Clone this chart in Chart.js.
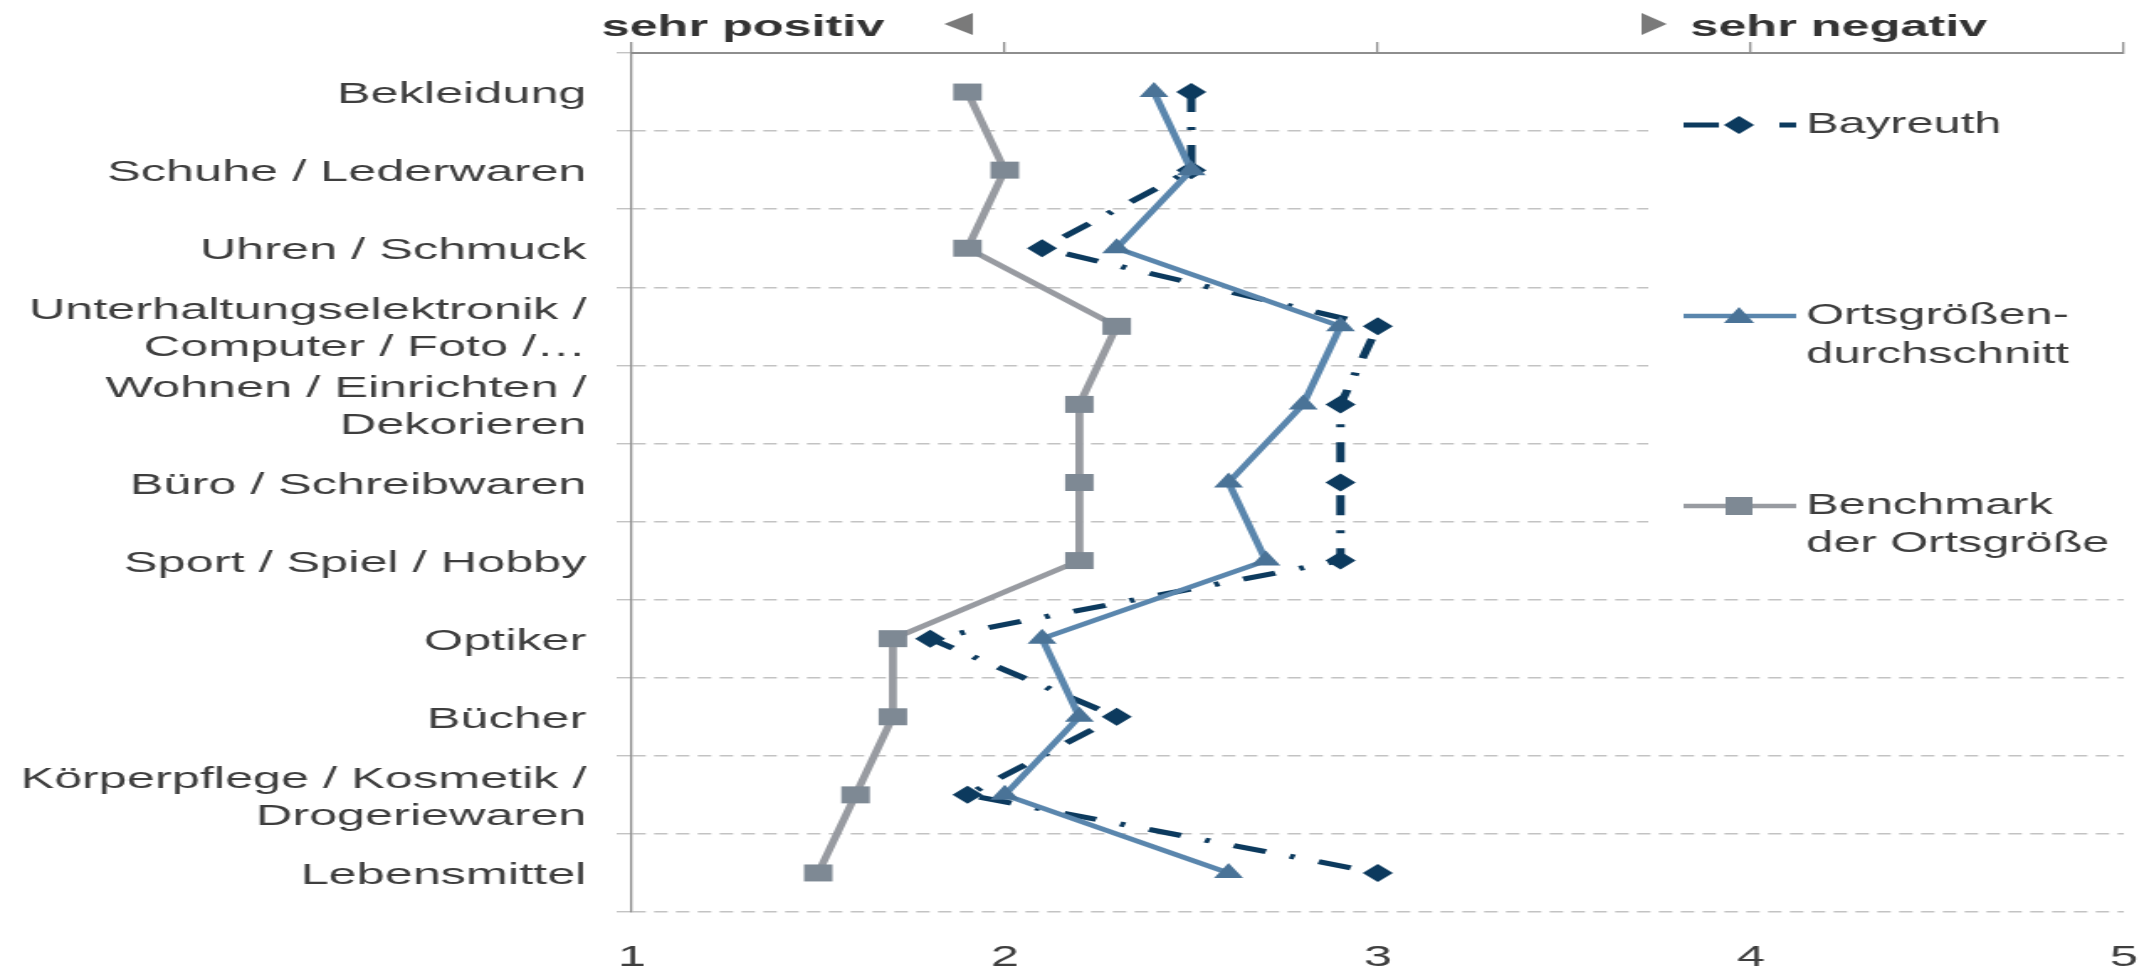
<!DOCTYPE html>
<html>
<head>
<meta charset="utf-8">
<script src="https://cdn.jsdelivr.net/npm/chart.js@4.4.1/dist/chart.umd.min.js"></script>
<style>
  html, body { margin: 0; padding: 0; background: #fff; overflow: hidden; }
  #stage { width: 2154px; height: 971px; overflow: hidden; position: relative; background: #fff; }
  /* the chart is laid out narrow and widened horizontally, giving the stretched lettering */
  #wrap { position: absolute; left: 0; top: 0; width: 1282px; height: 971px;
          transform: scaleX(1.6802); transform-origin: 0 0; }
</style>
</head>
<body>
<div id="stage"><div id="wrap"><canvas id="c"></canvas></div></div>
<script>
// Ratings per retail sector (1 = sehr positiv … 5 = sehr negativ)
const categories = [
  'Bekleidung',
  'Schuhe / Lederwaren',
  'Uhren / Schmuck',
  ['Unterhaltungselektronik /', 'Computer / Foto /…'],
  ['Wohnen / Einrichten /', 'Dekorieren'],
  'Büro / Schreibwaren',
  'Sport / Spiel / Hobby',
  'Optiker',
  'Bücher',
  ['Körperpflege / Kosmetik /', 'Drogeriewaren'],
  'Lebensmittel'
];
const bayreuth = [2.5, 2.5, 2.1, 3.0, 2.9, 2.9, 2.9, 1.8, 2.3, 1.9, 3.0];
const ortsgroessenDurchschnitt = [2.4, 2.5, 2.3, 2.9, 2.8, 2.6, 2.7, 2.1, 2.2, 2.0, 2.6];
const benchmarkOrtsgroesse = [1.9, 2.0, 1.9, 2.3, 2.2, 2.2, 2.2, 1.7, 1.7, 1.6, 1.5];
const scaleTicks = [1, 2, 3, 4, 5];
const seriesNames = [['Bayreuth'], ['Ortsgrößen-', 'durchschnitt'], ['Benchmark', 'der Ortsgröße']];
const endLabels = ['sehr positiv', 'sehr negativ'];

const FONT = "'Liberation Sans', Arial, sans-serif";
const TEXT = '#3e3e3e';
const AXIS_GREY = '#8e8e8e';
const GRID_GREY = '#c3c3c3';
const C_BAY = '#0c3a5e';
const C_ORT_LINE = '#5a86ad';
const C_ORT_MARK = '#4a7397';
const C_BEN_LINE = '#989ba1';
const C_BEN_MARK = '#7e8994';

function fixedTicks(scale) {
  scale.ticks = scaleTicks.map(v => ({ value: v }));
}

// white panel for the legend plus the legend entries and the scale end captions
const decor = {
  id: 'decor',
  beforeDatasetsDraw(chart) {
    const ctx = chart.ctx;
    ctx.save();
    ctx.fillStyle = '#ffffff';
    ctx.fillRect(981, 57, chart.width - 981, 503);
    ctx.restore();
  },
  afterDraw(chart) {
    const ctx = chart.ctx;
    ctx.save();

    // scale end captions with arrows
    ctx.font = 'bold 30px ' + FONT;
    ctx.fillStyle = '#333333';
    ctx.textBaseline = 'alphabetic';
    ctx.textAlign = 'left';
    ctx.fillText(endLabels[0], 358, 36);
    ctx.fillText(endLabels[1], 1006, 36);
    ctx.fillStyle = '#7a7a7a';
    ctx.beginPath();
    ctx.moveTo(579, 13); ctx.lineTo(579, 35); ctx.lineTo(562, 24); ctx.closePath(); ctx.fill();
    ctx.beginPath();
    ctx.moveTo(977, 13); ctx.lineTo(977, 35); ctx.lineTo(992, 24); ctx.closePath(); ctx.fill();

    // legend
    const x0 = 1002, x1 = 1069, xm = 1035, xt = 1075;
    ctx.font = '29px ' + FONT;
    ctx.fillStyle = TEXT;
    ctx.textBaseline = 'middle';

    // Bayreuth: dash, diamond, dash
    let y = 125;
    ctx.strokeStyle = C_BAY; ctx.lineWidth = 5; ctx.lineCap = 'butt';
    ctx.beginPath(); ctx.moveTo(x0, y); ctx.lineTo(1023, y); ctx.moveTo(1059, y); ctx.lineTo(x1, y); ctx.stroke();
    ctx.fillStyle = C_BAY;
    ctx.beginPath(); ctx.moveTo(xm, y - 9); ctx.lineTo(xm + 9, y); ctx.lineTo(xm, y + 9); ctx.lineTo(xm - 9, y); ctx.closePath(); ctx.fill();
    ctx.fillStyle = TEXT;
    ctx.fillText(seriesNames[0][0], xt, y);

    // Ortsgrößendurchschnitt: solid line, triangle
    y = 316;
    ctx.strokeStyle = C_ORT_LINE; ctx.lineWidth = 4.5;
    ctx.beginPath(); ctx.moveTo(x0, y); ctx.lineTo(x1, y); ctx.stroke();
    ctx.fillStyle = C_ORT_MARK;
    ctx.beginPath(); ctx.moveTo(xm, y - 9); ctx.lineTo(xm + 9, y + 7); ctx.lineTo(xm - 9, y + 7); ctx.closePath(); ctx.fill();
    ctx.fillStyle = TEXT;
    ctx.fillText(seriesNames[1][0], xt, y);
    ctx.fillText(seriesNames[1][1], xt, y + 39);

    // Benchmark: solid grey line, square
    y = 506;
    ctx.strokeStyle = C_BEN_LINE; ctx.lineWidth = 4.5;
    ctx.beginPath(); ctx.moveTo(x0, y); ctx.lineTo(x1, y); ctx.stroke();
    ctx.fillStyle = C_BEN_MARK;
    ctx.fillRect(xm - 8, y - 9, 16, 18);
    ctx.fillStyle = TEXT;
    ctx.fillText(seriesNames[2][0], xt, y);
    ctx.fillText(seriesNames[2][1], xt, y + 38);

    ctx.restore();
  }
};

new Chart(document.getElementById('c'), {
  type: 'line',
  data: {
    labels: categories,
    datasets: [
      {
        label: 'Benchmark der Ortsgröße',
        data: benchmarkOrtsgroesse,
        borderColor: C_BEN_LINE,
        borderWidth: 4.8,
        pointStyle: 'rect',
        pointRadius: 12,
        pointBackgroundColor: C_BEN_MARK,
        pointBorderWidth: 0
      },
      {
        label: 'Ortsgrößendurchschnitt',
        data: ortsgroessenDurchschnitt,
        borderColor: C_ORT_LINE,
        borderWidth: 4.5,
        pointStyle: 'triangle',
        pointRadius: 10,
        pointBackgroundColor: C_ORT_MARK,
        pointBorderWidth: 0
      },
      {
        label: 'Bayreuth',
        data: bayreuth,
        borderColor: C_BAY,
        borderWidth: 5,
        borderDash: [20, 15, 3, 15],
        pointStyle: 'rectRot',
        pointRadius: 9,
        pointBackgroundColor: C_BAY,
        pointBorderWidth: 0
      }
    ]
  },
  options: {
    indexAxis: 'y',
    responsive: true,
    maintainAspectRatio: false,
    animation: false,
    layout: { padding: { left: 0, right: 18, top: 0, bottom: 0 } },
    elements: { line: { tension: 0, fill: false }, point: { hoverRadius: 12 } },
    plugins: { legend: { display: false }, tooltip: { enabled: false } },
    scales: {
      x: {
        type: 'linear', position: 'bottom', min: 1, max: 5,
        afterBuildTicks: fixedTicks,
        afterFit: s => { s.height = 59; },
        grid: { display: true, drawOnChartArea: false, drawTicks: true, tickLength: 28,
                tickColor: 'rgba(0,0,0,0)', color: 'rgba(0,0,0,0)' },
        border: { display: false },
        ticks: { color: TEXT, font: { family: FONT, size: 30 }, padding: 0, autoSkip: false, maxRotation: 0 }
      },
      xTop: {
        type: 'linear', position: 'top', min: 1, max: 5,
        afterBuildTicks: fixedTicks,
        afterFit: s => { s.height = 53; },
        grid: { drawOnChartArea: false, drawTicks: true, tickLength: 11, color: AXIS_GREY, lineWidth: 1.3 },
        border: { display: true, color: AXIS_GREY, width: 2 },
        ticks: { display: false, padding: 0 }
      },
      y: {
        type: 'category', position: 'left', offset: true,
        afterFit: s => { s.width = 376; },
        grid: { offset: true, color: GRID_GREY, lineWidth: 1.4, drawTicks: true, tickLength: 9,
                tickColor: GRID_GREY, tickBorderDash: [8, 5] },
        border: { display: true, color: AXIS_GREY, width: 1.3, dash: [8, 5] },
        ticks: { color: TEXT, font: { family: FONT, size: 30, lineHeight: 1.23 }, padding: 18,
                 labelOffset: 3, autoSkip: false }
      }
    }
  },
  plugins: [decor]
});
</script>
</body>
</html>
